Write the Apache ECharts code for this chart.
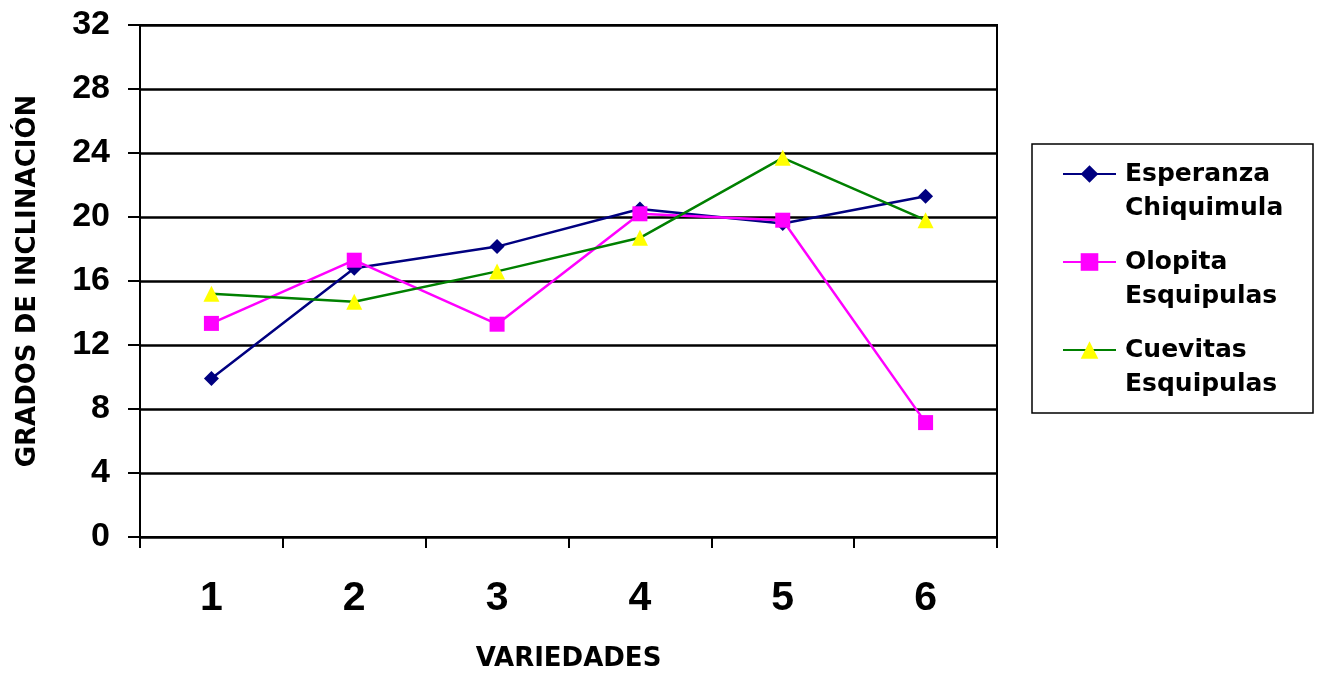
<!DOCTYPE html>
<html>
<head>
<meta charset="utf-8">
<script src="https://cdn.jsdelivr.net/npm/echarts@6/dist/echarts.min.js"></script>
<style>html,body{margin:0;padding:0;background:#fff}#c{width:1317px;height:677px}</style>
</head>
<body>
<div id="c"></div>
<script>
const categories = ['1','2','3','4','5','6'];
const esperanza = [9.9, 16.8, 18.15, 20.5, 19.6, 21.3];
const olopita = [13.35, 17.3, 13.3, 20.2, 19.8, 7.15];
const cuevitas = [15.2, 14.7, 16.6, 18.7, 23.7, 19.8];
const seriesNames = ['Esperanza\nChiquimula', 'Olopita\nEsquipulas', 'Cuevitas\nEsquipulas'];
const yTicks = [0, 4, 8, 12, 16, 20, 24, 28, 32];

const chart = echarts.init(document.getElementById('c'));
const bold = {fontFamily: 'DejaVu Sans', fontWeight: 'bold', color: '#000'};
chart.setOption({
  backgroundColor: '#fff',
  animation: false,
  grid: {left: 140, top: 25, width: 857, height: 512, containLabel: false, outerBoundsMode: 'none',
         show: true, borderColor: '#000', borderWidth: 2},
  legend: {
    orient: 'vertical', left: 1032, top: 144,
    borderColor: '#000', borderWidth: 1.5, padding: [-21, 28, 12, 30],
    itemWidth: 53, itemHeight: 22, itemGap: -14,
    formatter: name => ' \n' + name,
    textStyle: Object.assign({fontSize: 25, lineHeight: 34, width: 160, overflow: 'none', padding: [0, 0, 0, 4]}, bold),
    data: seriesNames
  },
  xAxis: {
    type: 'category', data: categories, boundaryGap: true,
    axisLine: {lineStyle: {color: '#000', width: 2}},
    axisTick: {show: true, interval: 0, length: 11, lineStyle: {color: '#000', width: 2}},
    axisLabel: {fontSize: 41, margin: 41, fontFamily: 'Liberation Sans', fontWeight: 'bold', color: '#000'},
    name: 'VARIEDADES', nameLocation: 'middle', nameGap: 109,
    nameTextStyle: Object.assign({fontSize: 26}, bold)
  },
  yAxis: {
    type: 'value', min: 0, max: 32, interval: 4,
    axisLine: {show: true, lineStyle: {color: '#000', width: 2}},
    axisTick: {show: true, length: 12, lineStyle: {color: '#000', width: 2}},
    splitLine: {show: true, lineStyle: {color: '#000', width: 2.5}},
    axisLabel: {fontSize: 34, fontWeight: 'bold', color: '#000', fontFamily: 'Liberation Sans', margin: 30,
                formatter: v => yTicks.includes(v) ? String(v) : ''},
    name: 'GRADOS DE INCLINACIÓN', nameLocation: 'middle', nameGap: 99, nameRotate: 90,
    nameTextStyle: Object.assign({fontSize: 26}, bold)
  },
  series: [
    {name: seriesNames[0], type: 'line', data: esperanza, symbol: 'diamond', symbolSize: 15,
     lineStyle: {color: '#000080', width: 2.5}, itemStyle: {color: '#000080'}},
    {name: seriesNames[1], type: 'line', data: olopita, symbol: 'rect', symbolSize: 15,
     lineStyle: {color: '#FF00FF', width: 2.5}, itemStyle: {color: '#FF00FF'}},
    {name: seriesNames[2], type: 'line', data: cuevitas, symbol: 'triangle', symbolSize: 16,
     lineStyle: {color: '#008000', width: 2.5}, itemStyle: {color: '#FFFF00'}}
  ]
});
</script>
</body>
</html>
